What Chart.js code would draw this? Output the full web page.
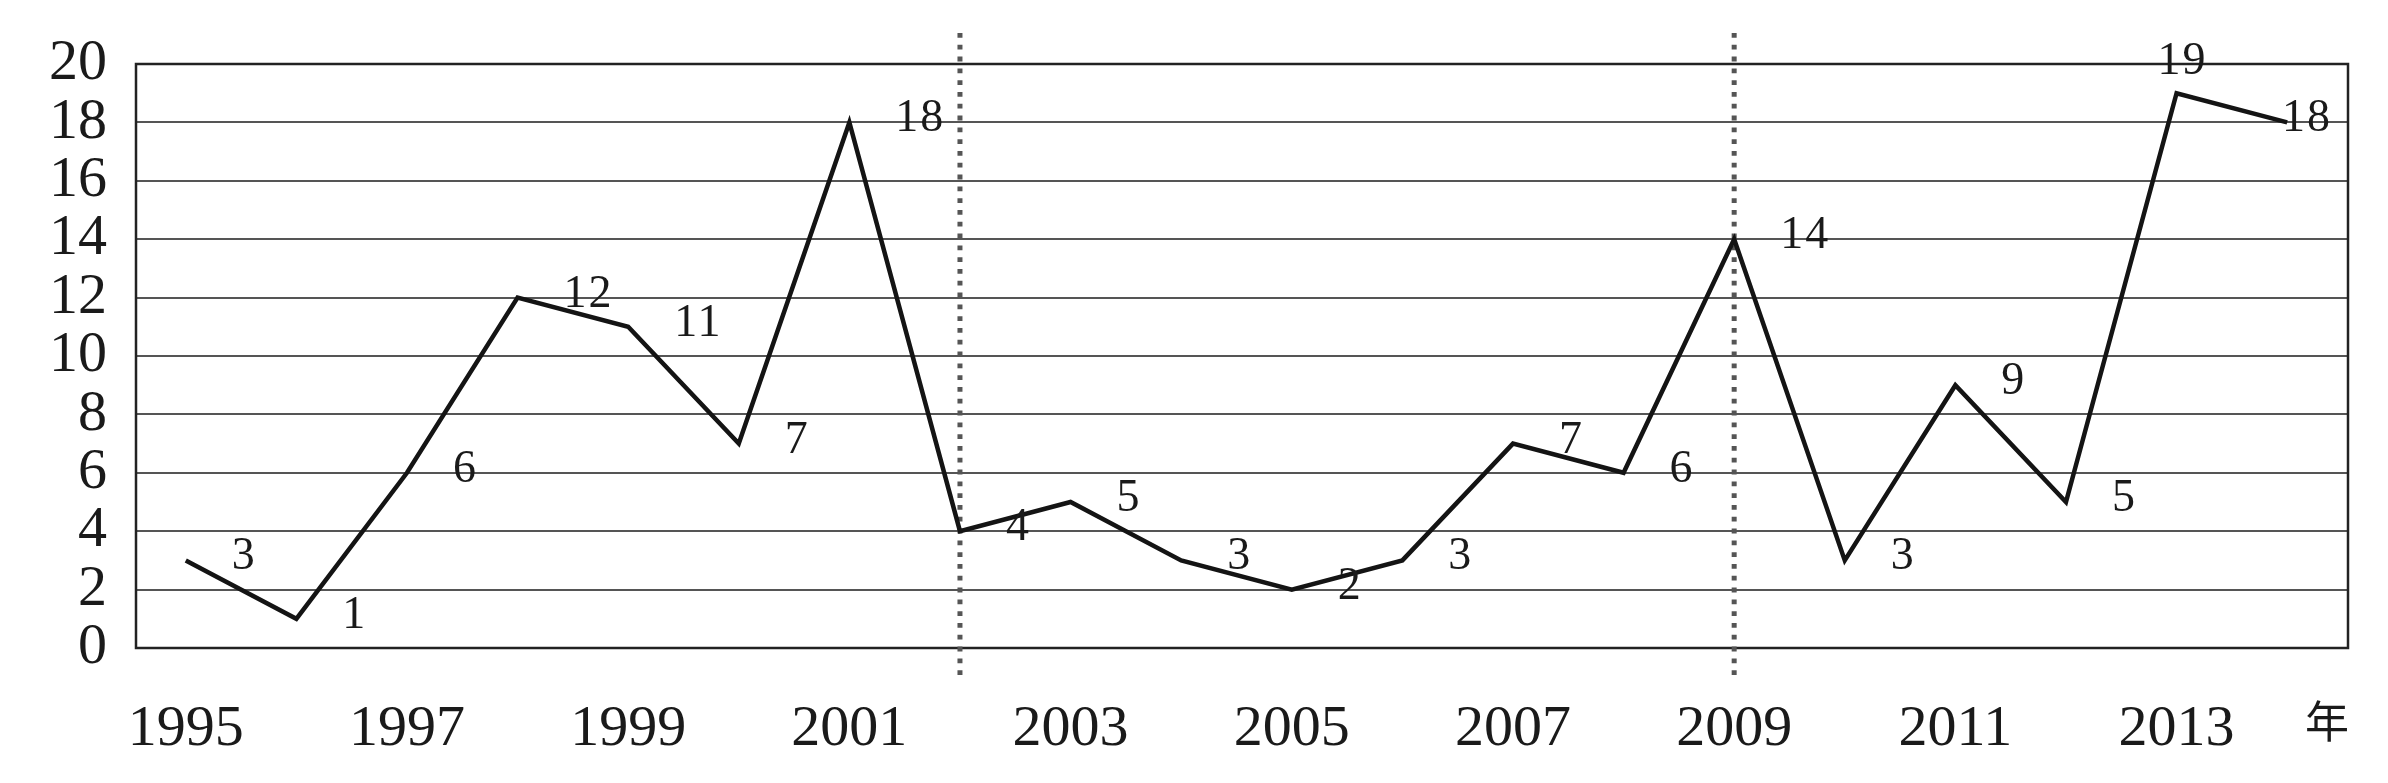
<!DOCTYPE html>
<html lang="zh">
<head>
<meta charset="utf-8">
<title>年度折线图</title>
<script src="https://cdn.jsdelivr.net/npm/chart.js"></script>
<style>
  html, body { margin: 0; padding: 0; background: #fff; }
  #box { width: 2388px; height: 783px; }
</style>
</head>
<body>
<div id="box"><canvas id="grafico" width="2388" height="783"></canvas></div>
<script>
// dados
const anos = [1995, 1996, 1997, 1998, 1999, 2000, 2001, 2002, 2003, 2004,
              2005, 2006, 2007, 2008, 2009, 2010, 2011, 2012, 2013, 2014];
const valores = [3, 1, 6, 12, 11, 7, 18, 4, 5, 3, 2, 3, 7, 6, 14, 3, 9, 5, 19, 18];
const anosRotulo = [1995, 1997, 1999, 2001, 2003, 2005, 2007, 2009, 2011, 2013];
const unidade = '年';
const posUnidade = 2014.36;
const divisorias = [2002, 2009];

const serif = '"Liberation Serif", "DejaVu Serif", serif';
const corTexto = '#1a1a1a';

// linhas pontilhadas, moldura e rótulos dos pontos
const extras = {
  id: 'extras',
  beforeDatasetsDraw(chart) {
    const { ctx, chartArea: a, scales: { x } } = chart;
    ctx.save();
    ctx.strokeStyle = '#222';
    ctx.lineWidth = 2.5;
    ctx.strokeRect(a.left, a.top, a.right - a.left, a.bottom - a.top);

    ctx.strokeStyle = '#555';
    ctx.lineWidth = 5;
    ctx.setLineDash([4.8, 7]);
    divisorias.forEach(ano => {
      const px = x.getPixelForValue(ano);
      ctx.beginPath();
      ctx.moveTo(px, a.top - 31);
      ctx.lineTo(px, a.bottom + 28);
      ctx.stroke();
    });
    ctx.restore();
  },
  afterDatasetsDraw(chart) {
    const { ctx, chartArea: a } = chart;
    const meta = chart.getDatasetMeta(0);
    const maior = valores.indexOf(Math.max(...valores));
    ctx.save();
    ctx.font = '46px ' + serif;
    ctx.letterSpacing = '2px';
    ctx.fillStyle = corTexto;
    ctx.textBaseline = 'middle';
    meta.data.forEach((pt, i) => {
      const txt = String(valores[i]);
      if (i === maior) {
        ctx.textAlign = 'center';
        ctx.fillText(txt, pt.x + 6, pt.y - 31);
        return;
      }
      const w = ctx.measureText(txt).width;
      let left = pt.x + 46;
      if (left + w > a.right - 16) left = a.right - 16 - w;
      ctx.textAlign = 'left';
      ctx.fillText(txt, left, pt.y - 3);
    });
    ctx.restore();
  }
};

new Chart(document.getElementById('grafico').getContext('2d'), {
  type: 'line',
  data: {
    datasets: [{
      data: anos.map((a, i) => ({ x: a, y: valores[i] })),
      borderColor: '#141414',
      borderWidth: 4.5,
      borderJoinStyle: 'miter',
      pointRadius: 0,
      tension: 0,
      fill: false
    }]
  },
  options: {
    responsive: false,
    animation: false,
    layout: { padding: { top: 64, right: 40, left: 0, bottom: 0 } },
    plugins: { legend: { display: false }, tooltip: { enabled: false } },
    scales: {
      x: {
        type: 'linear',
        min: 1994.55,
        max: 2014.55,
        grid: { display: false, drawTicks: false },
        border: { display: false },
        afterBuildTicks: (axis) => {
          axis.ticks = anosRotulo.map(v => ({ value: v })).concat([{ value: posUnidade }]);
        },
        afterFit: (s) => { s.height = 135; s.paddingLeft = 0; s.paddingRight = 0; },
        ticks: {
          autoSkip: false,
          maxRotation: 0,
          padding: 47,
          color: corTexto,
          font: (c) => (c.tick && c.tick.value === posUnidade)
            ? { family: '"Noto Sans CJK SC", sans-serif', size: 44 }
            : { family: serif, size: 58 },
          callback: (v) => v === posUnidade ? unidade : String(v)
        }
      },
      y: {
        min: 0,
        max: 20,
        grid: {
          drawTicks: false,
          lineWidth: 2,
          color: (c) => (c.tick && (c.tick.value === 0 || c.tick.value === 20)) ? '#222' : '#555'
        },
        border: { display: false },
        afterFit: (s) => { s.width = 136; s.paddingTop = 0; s.paddingBottom = 0; },
        ticks: {
          stepSize: 2,
          autoSkip: false,
          padding: 29,
          color: corTexto,
          font: { family: serif, size: 58 }
        }
      }
    }
  },
  plugins: [extras]
});
</script>
</body>
</html>
